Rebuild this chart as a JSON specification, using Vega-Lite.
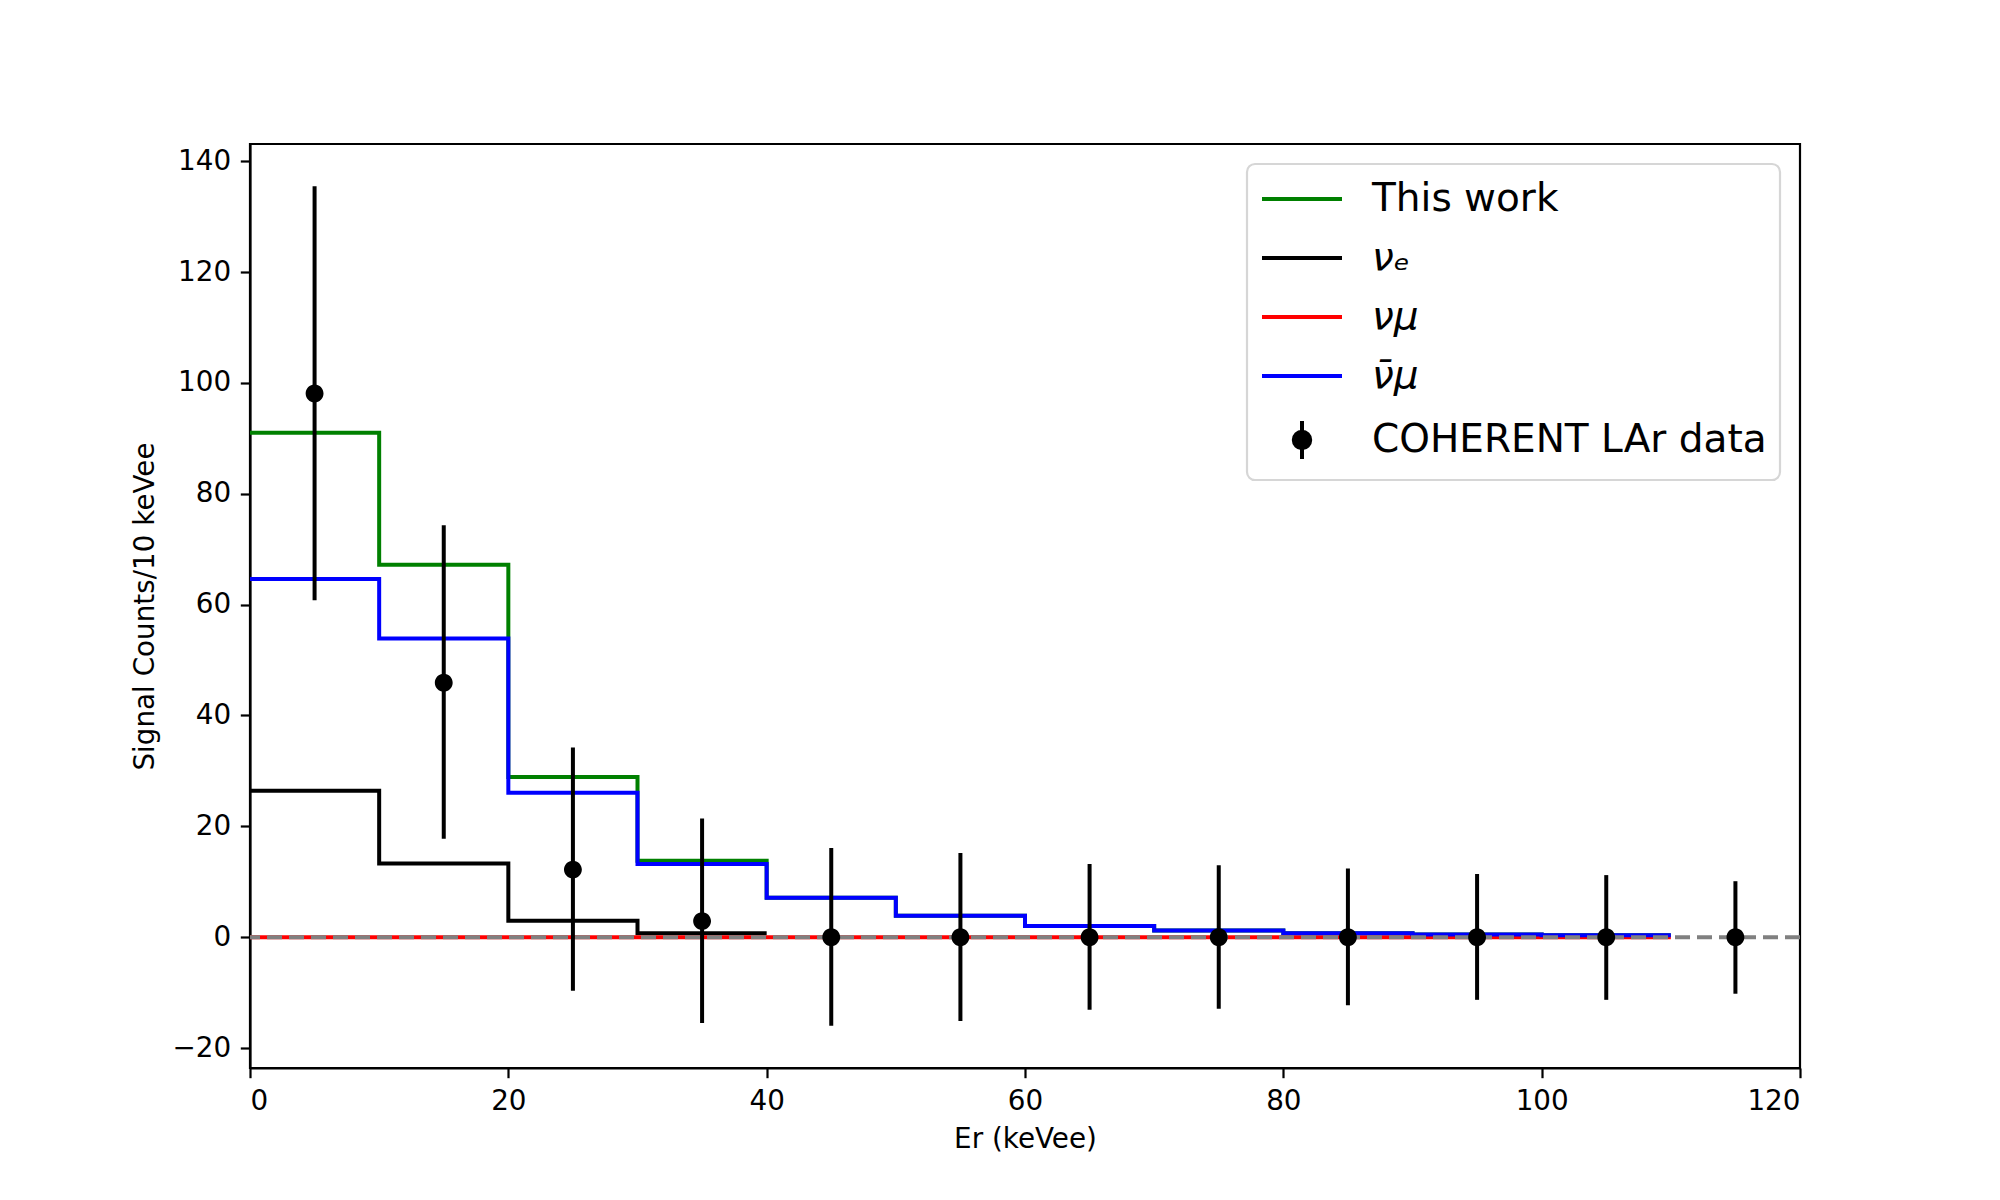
{
  "$schema": "https://vega.github.io/schema/vega-lite/v6.json",
  "width": 1550,
  "height": 924,
  "autosize": {"type": "none"},
  "padding": {"left": 250, "top": 144, "right": 200, "bottom": 132},
  "background": "white",
  "config": {
    "view": {"stroke": "black", "strokeWidth": 2.2},
    "font": "DejaVu Sans",
    "axis": {
      "grid": false,
      "domainColor": "black",
      "domainWidth": 2.2,
      "tickColor": "black",
      "tickWidth": 2.2,
      "tickSize": 9.7,
      "labelFont": "DejaVu Sans",
      "labelFontSize": 27.8,
      "labelColor": "black",
      "labelPadding": 9.7,
      "titleFont": "DejaVu Sans",
      "titleFontSize": 27.8,
      "titleFontWeight": "normal",
      "titleColor": "black"
    },
    "legend": {
      "title": null,
      "orient": "top-right",
      "offset": 20,
      "padding": 13,
      "labelFont": "DejaVu Sans",
      "labelFontSize": 39,
      "labelColor": "black",
      "labelLimit": 700,
      "labelOffset": 48,
      "symbolOffset": 20,
      "symbolSize": 1600,
      "symbolStrokeWidth": 4,
      "rowPadding": 17,
      "fillColor": "white",
      "strokeColor": "#d6d6d6",
      "strokeWidth": 2.2,
      "cornerRadius": 8
    }
  },
  "datasets": {
    "curves": [
      {"series": "This work", "x": 0, "y": 91.0},
      {"series": "This work", "x": 10, "y": 67.2},
      {"series": "This work", "x": 20, "y": 28.9},
      {"series": "This work", "x": 30, "y": 13.8},
      {"series": "This work", "x": 40, "y": 7.1},
      {"series": "This work", "x": 50, "y": 3.85},
      {"series": "This work", "x": 60, "y": 2.0},
      {"series": "This work", "x": 70, "y": 1.2},
      {"series": "This work", "x": 80, "y": 0.72},
      {"series": "This work", "x": 90, "y": 0.5},
      {"series": "This work", "x": 100, "y": 0.35},
      {"series": "This work", "x": 110, "y": 0.35},
      {"series": "νₑ", "x": 0, "y": 26.4},
      {"series": "νₑ", "x": 10, "y": 13.3},
      {"series": "νₑ", "x": 20, "y": 2.97},
      {"series": "νₑ", "x": 30, "y": 0.7},
      {"series": "νₑ", "x": 40, "y": 0.7},
      {"series": "νμ", "x": 0, "y": 0},
      {"series": "νμ", "x": 10, "y": 0},
      {"series": "νμ", "x": 20, "y": 0},
      {"series": "νμ", "x": 30, "y": 0},
      {"series": "νμ", "x": 40, "y": 0},
      {"series": "νμ", "x": 50, "y": 0},
      {"series": "νμ", "x": 60, "y": 0},
      {"series": "νμ", "x": 70, "y": 0},
      {"series": "νμ", "x": 80, "y": 0},
      {"series": "νμ", "x": 90, "y": 0},
      {"series": "νμ", "x": 100, "y": 0},
      {"series": "νμ", "x": 110, "y": 0},
      {"series": "ν̄μ", "x": 0, "y": 64.6},
      {"series": "ν̄μ", "x": 10, "y": 53.9},
      {"series": "ν̄μ", "x": 20, "y": 26.05},
      {"series": "ν̄μ", "x": 30, "y": 13.2},
      {"series": "ν̄μ", "x": 40, "y": 7.1},
      {"series": "ν̄μ", "x": 50, "y": 3.85},
      {"series": "ν̄μ", "x": 60, "y": 2.0},
      {"series": "ν̄μ", "x": 70, "y": 1.2},
      {"series": "ν̄μ", "x": 80, "y": 0.72},
      {"series": "ν̄μ", "x": 90, "y": 0.5},
      {"series": "ν̄μ", "x": 100, "y": 0.35},
      {"series": "ν̄μ", "x": 110, "y": 0.35}
    ],
    "zero": [{"y": 0}],
    "points": [
      {"series": "COHERENT LAr data", "x": 5, "y": 98.1, "lo": 60.8, "hi": 135.5},
      {"series": "COHERENT LAr data", "x": 15, "y": 45.9, "lo": 17.75, "hi": 74.3},
      {"series": "COHERENT LAr data", "x": 25, "y": 12.2, "lo": -9.65, "hi": 34.2},
      {"series": "COHERENT LAr data", "x": 35, "y": 2.9, "lo": -15.5, "hi": 21.4},
      {"series": "COHERENT LAr data", "x": 45, "y": 0, "lo": -16.0, "hi": 16.1},
      {"series": "COHERENT LAr data", "x": 55, "y": 0, "lo": -15.1, "hi": 15.2},
      {"series": "COHERENT LAr data", "x": 65, "y": 0, "lo": -13.1, "hi": 13.2},
      {"series": "COHERENT LAr data", "x": 75, "y": 0, "lo": -12.9, "hi": 13.0},
      {"series": "COHERENT LAr data", "x": 85, "y": 0, "lo": -12.3, "hi": 12.4},
      {"series": "COHERENT LAr data", "x": 95, "y": 0, "lo": -11.3, "hi": 11.4},
      {"series": "COHERENT LAr data", "x": 105, "y": 0, "lo": -11.3, "hi": 11.2},
      {"series": "COHERENT LAr data", "x": 115, "y": 0, "lo": -10.2, "hi": 10.1}
    ]
  },
  "layer": [
    {
      "data": {"name": "curves"},
      "mark": {"type": "line", "interpolate": "step-after", "strokeWidth": 4, "clip": true},
      "encoding": {
        "x": {
          "field": "x", "type": "quantitative",
          "scale": {"domain": [0, 120], "nice": false, "zero": false},
          "axis": {"values": [0, 20, 40, 60, 80, 100, 120], "title": "Er (keVee)", "titlePadding": 10}
        },
        "y": {
          "field": "y", "type": "quantitative",
          "scale": {"domain": [-23.6, 143.1], "nice": false, "zero": false},
          "axis": {
            "values": [-20, 0, 20, 40, 60, 80, 100, 120, 140],
            "title": "Signal Counts/10 keVee",
            "titlePadding": 12,
            "labelExpr": "replace(datum.label, '-', '−')"
          }
        },
        "color": {
          "field": "series", "type": "nominal",
          "scale": {
            "domain": ["This work", "νₑ", "νμ", "ν̄μ", "COHERENT LAr data"],
            "range": ["#008000", "#000000", "#ff0000", "#0000ff", "#000000"]
          },
          "legend": {
            "encode": {
              "symbols": {"update": {"fill": {"value": "black"}, "stroke": {"scale": "color", "field": "value"}, "strokeWidth": {"value": 4}, "opacity": {"value": 1}}},
              "labels": {"update": {"fontStyle": [{"test": "datum.label === 'This work' || datum.label === 'COHERENT LAr data'", "value": "normal"}, {"value": "italic"}]}}
            }
          }
        },
        "order": {"field": "x", "type": "quantitative"}
      }
    },
    {
      "data": {"name": "zero"},
      "mark": {"type": "rule", "color": "#808080", "strokeWidth": 4, "strokeDash": [15, 7]},
      "encoding": {"y": {"field": "y", "type": "quantitative"}}
    },
    {
      "data": {"name": "points"},
      "mark": {"type": "rule", "color": "black", "strokeWidth": 4},
      "encoding": {
        "x": {"field": "x", "type": "quantitative"},
        "y": {"field": "lo", "type": "quantitative"},
        "y2": {"field": "hi"}
      }
    },
    {
      "data": {"name": "points"},
      "mark": {"type": "point", "filled": true, "size": 1900, "strokeWidth": 0, "opacity": 1},
      "encoding": {
        "x": {"field": "x", "type": "quantitative"},
        "y": {"field": "y", "type": "quantitative"},
        "color": {"field": "series", "type": "nominal"},
        "shape": {
          "field": "series", "type": "nominal",
          "scale": {
            "domain": ["This work", "νₑ", "νμ", "ν̄μ", "COHERENT LAr data"],
            "range": ["M-2,0L2,0", "M-2,0L2,0", "M-2,0L2,0", "M-2,0L2,0", "M0,-0.95L0,0.95M0.41,0A0.41,0.41,0,1,1,-0.41,0A0.41,0.41,0,1,1,0.41,0Z"]
          }
        }
      }
    }
  ]
}
